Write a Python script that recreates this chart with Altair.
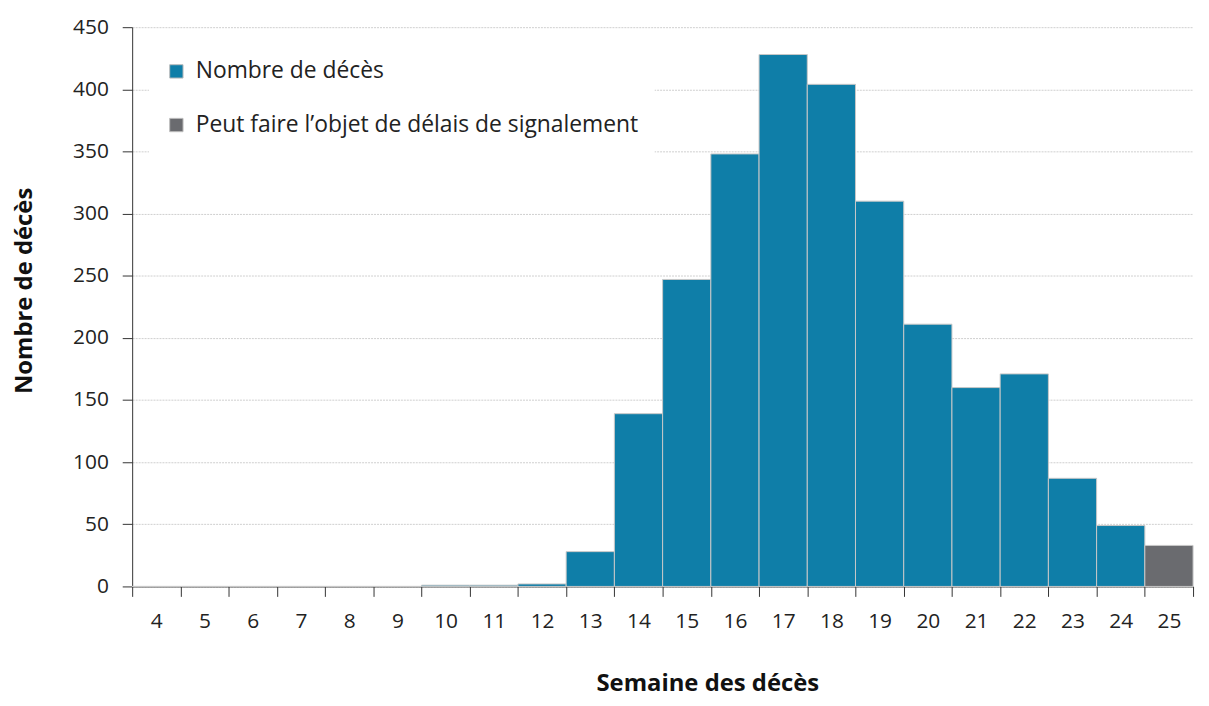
import altair as alt
import pandas as pd

weeks = [str(w) for w in range(4, 26)]
values = [0, 0, 0, 0, 0, 0, 1, 1, 2, 28, 139, 247, 348, 428, 404, 310, 211, 160, 171, 87, 49, 33]
series_names = ["Nombre de décès", "Peut faire l\u2019objet de délais de signalement"]
series = [series_names[0]] * 21 + [series_names[1]]
colors = ["#0F7EA8", "#6A6B6F"]
y_ticks = list(range(0, 451, 50))

df = pd.DataFrame({"week": weeks, "value": values, "series": series})

FONT = "Open Sans"

chart = alt.Chart(df).mark_bar(stroke="#c8c8c8", strokeWidth=1).encode(
    x=alt.X("week:N", sort=weeks,
            scale=alt.Scale(paddingInner=0, paddingOuter=0),
            axis=alt.Axis(title="Semaine des décès", labelAngle=0, tickBand="extent",
                          tickSize=10, tickColor="#333", domainColor="#333",
                          labelPadding=14, labelFontSize=21, labelColor="#222",
                          titleFontSize=24, titleFontWeight="bold", titleColor="#111",
                          titleX=579, titleY=98, titleBaseline="middle", titleAlign="center")),
    y=alt.Y("value:Q", scale=alt.Scale(domain=[0, 450], nice=False),
            axis=alt.Axis(title="Nombre de décès", values=y_ticks, tickSize=10, tickColor="#333",
                          domainColor="#333", labelPadding=14, labelFontSize=21, labelColor="#222",
                          grid=True, gridColor="#cfcfcf", gridDash=[2, 1], gridWidth=1,
                          titleFontSize=24, titleFontWeight="bold", titleColor="#111",
                          titleX=-108, titleY=265, titleAngle=-90, titleBaseline="middle",
                          titleAlign="center")),
    color=alt.Color("series:N", scale=alt.Scale(domain=series_names, range=colors),
                    legend=alt.Legend(title=None, orient="none", legendX=17, legendY=17,
                                      fillColor="white", padding=16, symbolType="square",
                                      symbolSize=180, symbolStrokeColor="#bbbbbb",
                                      symbolStrokeWidth=1, labelFontSize=23, labelColor="#222",
                                      labelFont=FONT, rowPadding=30, labelOffset=8,
                                      labelLimit=700)),
).properties(
    width=1068, height=563,
    autosize=alt.AutoSizeParams(type="none"),
    padding={"left": 125, "top": 17, "right": 8, "bottom": 110},
).configure(font=FONT).configure_view(strokeWidth=0, stroke="transparent")

chart.save("out.html", embed_options={"renderer": "svg", "actions": False})
